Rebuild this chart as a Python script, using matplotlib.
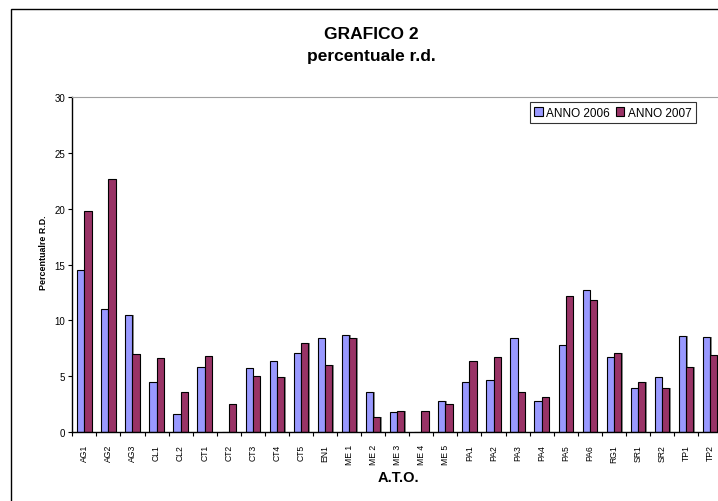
import matplotlib
matplotlib.use('Agg')
import matplotlib.pyplot as plt
from matplotlib.patches import Rectangle, Patch
import numpy as np

plt.rcParams['font.family'] = ['Liberation Sans', 'DejaVu Sans']

# data
categories = ['AG1', 'AG2', 'AG3', 'CL1', 'CL2', 'CT1', 'CT2', 'CT3', 'CT4', 'CT5',
              'EN1', 'ME 1', 'ME 2', 'ME 3', 'ME 4', 'ME 5', 'PA1', 'PA2', 'PA3', 'PA4',
              'PA5', 'PA6', 'RG1', 'SR1', 'SR2', 'TP1', 'TP2']
anno_2006 = [14.5, 11.0, 10.5, 4.5, 1.6, 5.8, 0.0, 5.7, 6.4, 7.1,
             8.4, 8.7, 3.6, 1.8, 0.0, 2.8, 4.5, 4.7, 8.4, 2.8,
             7.8, 12.7, 6.7, 3.9, 4.9, 8.6, 8.5]
anno_2007 = [19.8, 22.7, 7.0, 6.6, 3.6, 6.8, 2.5, 5.0, 4.9, 8.0,
             6.0, 8.4, 1.3, 1.9, 1.9, 2.5, 6.4, 6.7, 3.6, 3.1,
             12.2, 11.8, 7.1, 4.5, 3.9, 5.8, 6.9]
series_labels = ['ANNO 2006', 'ANNO 2007']
col_2006 = '#9999FF'
col_2007 = '#993366'

W, H = 718, 502
n = len(categories)
fig = plt.figure(figsize=(W/100, H/100), dpi=100)

# outer chart frame (runs off the right and bottom edges)
fig.patches.append(Rectangle((11/W, -0.1), 1.2, 1.1 - 10/H,
                             transform=fig.transFigure, fill=False,
                             edgecolor='black', linewidth=1.0))

# plot area, last slot partly off the image
ax = fig.add_axes([72.3/W, 69/H, n*24.07/W, 335/H])

x = np.arange(n)
bw = 0.30
# light shadow behind each bar
ax.bar(x - bw/2 + 0.06, anno_2006, bw, color='#8c8c8c', linewidth=0, zorder=1)
ax.bar(x + bw/2 + 0.06, anno_2007, bw, color='#8c8c8c', linewidth=0, zorder=1)
ax.bar(x - bw/2, anno_2006, bw, color=col_2006, edgecolor='black', linewidth=0.8, zorder=2)
ax.bar(x + bw/2, anno_2007, bw, color=col_2007, edgecolor='black', linewidth=0.8, zorder=2)

ax.set_xlim(-0.5, n - 0.5)
ax.set_ylim(0, 30)
ax.set_yticks(range(0, 31, 5))
ax.tick_params(axis='y', direction='out', length=3, width=0.8, labelsize=7, pad=2)

ax.set_xticks(x)
ax.set_xticklabels(categories, rotation=90, fontsize=6.2)
ax.tick_params(axis='x', which='major', length=0, pad=8.6)
ax.set_xticks(np.arange(-0.5, n, 1), minor=True)
ax.tick_params(axis='x', which='minor', direction='out', length=3, width=0.8)

ax.spines['top'].set_color('#a0a0a0')
ax.spines['right'].set_visible(False)
ax.spines['left'].set_linewidth(1.0)
ax.spines['bottom'].set_linewidth(1.0)

fig.text(371/W, 1 - 35/H, 'GRAFICO 2', ha='center', va='center',
         fontsize=12.5, fontweight='bold')
fig.text(371/W, 1 - 56/H, 'percentuale r.d.', ha='center', va='center',
         fontsize=12.5, fontweight='bold')
fig.text(43/W, 1 - 253/H, 'Percentualre R.D.', rotation=90, ha='center', va='center',
         fontsize=6.4, fontweight='bold')
fig.text(398/W, 1 - 478/H, 'A.T.O.', ha='center', va='center',
         fontsize=10.5, fontweight='bold')

handles = [Patch(facecolor=col_2006, edgecolor='black', linewidth=0.8),
           Patch(facecolor=col_2007, edgecolor='black', linewidth=0.8)]
leg = fig.legend(handles, series_labels, loc='upper right', ncol=2,
                 bbox_to_anchor=(696/W, 1 - 103/H), bbox_transform=fig.transFigure,
                 fontsize=8.5, frameon=True, fancybox=False, borderaxespad=0,
                 handlelength=0.7, handleheight=0.7, handletextpad=0.3,
                 columnspacing=0.5, borderpad=0.4)
leg.get_frame().set_edgecolor('black')
leg.get_frame().set_linewidth(0.8)

fig.savefig('out.png', dpi=100)
